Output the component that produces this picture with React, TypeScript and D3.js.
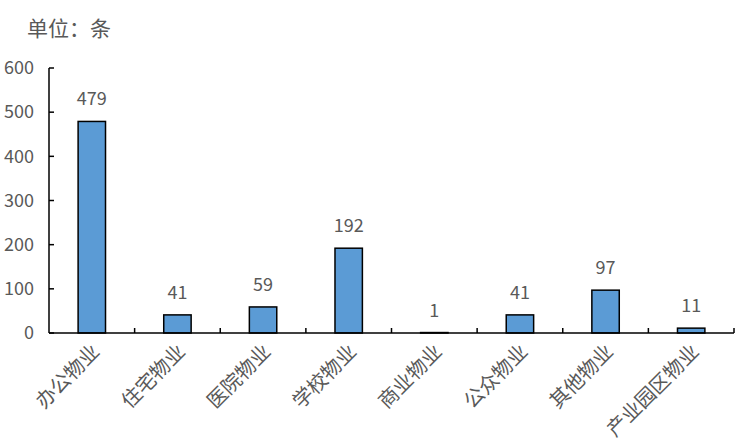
import React from "react";
import * as d3 from "d3";

const categories = ["办公物业", "住宅物业", "医院物业", "学校物业", "商业物业", "公众物业", "其他物业", "产业园区物业"];
const values = [479, 41, 59, 192, 1, 41, 97, 11];
const yTicks = [0, 100, 200, 300, 400, 500, 600];
const unitLabel = "单位：条";

const W = 752, H = 444;
const margin = { left: 49, right: 18, top: 68, bottom: 111 };
const FONT = "'Noto Sans CJK SC', 'Noto Sans', sans-serif";
const GRAY = "#595959";

export default function App() {
  const x = d3.scaleBand<string>().domain(categories).range([margin.left, W - margin.right]).paddingInner(0).paddingOuter(0);
  const y = d3.scaleLinear().domain([0, 600]).range([H - margin.bottom, margin.top]);
  const bw = x.bandwidth() * 0.32;
  const y0 = y(0);
  return (
    <svg width={W} height={H} style={{ position: "absolute", left: 0, top: 0, background: "#fff" }} fontFamily={FONT}>
      <text x={27} y={36} fontSize={21} fill={GRAY}>{unitLabel}</text>
      {/* y axis */}
      <line x1={margin.left} x2={margin.left} y1={y(600)} y2={y0} stroke="#000" strokeWidth={1.5} />
      {yTicks.map((t) => (
        <g key={t}>
          <line x1={margin.left} x2={margin.left + 5} y1={y(t)} y2={y(t)} stroke="#000" strokeWidth={1.5} />
          <text x={34} y={y(t)} dy="0.35em" textAnchor="end" fontSize={18} fill={GRAY}>{t}</text>
        </g>
      ))}
      {/* bars */}
      {categories.map((c, i) => {
        const cx = (x(c) as number) + x.bandwidth() / 2;
        return (
          <g key={c}>
            <rect x={cx - bw / 2} y={y(values[i])} width={bw} height={y0 - y(values[i])} fill="#5B9BD5" stroke="#000" strokeWidth={1.5} />
            <text x={cx} y={y(values[i]) - 16} textAnchor="middle" fontSize={18} fill={GRAY}>{values[i]}</text>
            <text transform={`translate(${cx + 4},${y0 + 15}) rotate(-45)`} textAnchor="end" dy="0.35em" fontSize={20} fill={GRAY}>{c}</text>
          </g>
        );
      })}
      {/* x axis */}
      <line x1={margin.left} x2={W - margin.right} y1={y0} y2={y0} stroke="#000" strokeWidth={1.5} />
      {categories.map((c, i) => (
        <line key={"t" + i} x1={(x(c) as number) + x.bandwidth()} x2={(x(c) as number) + x.bandwidth()} y1={y0} y2={y0 - 5} stroke="#000" strokeWidth={1.5} />
      ))}
    </svg>
  );
}
